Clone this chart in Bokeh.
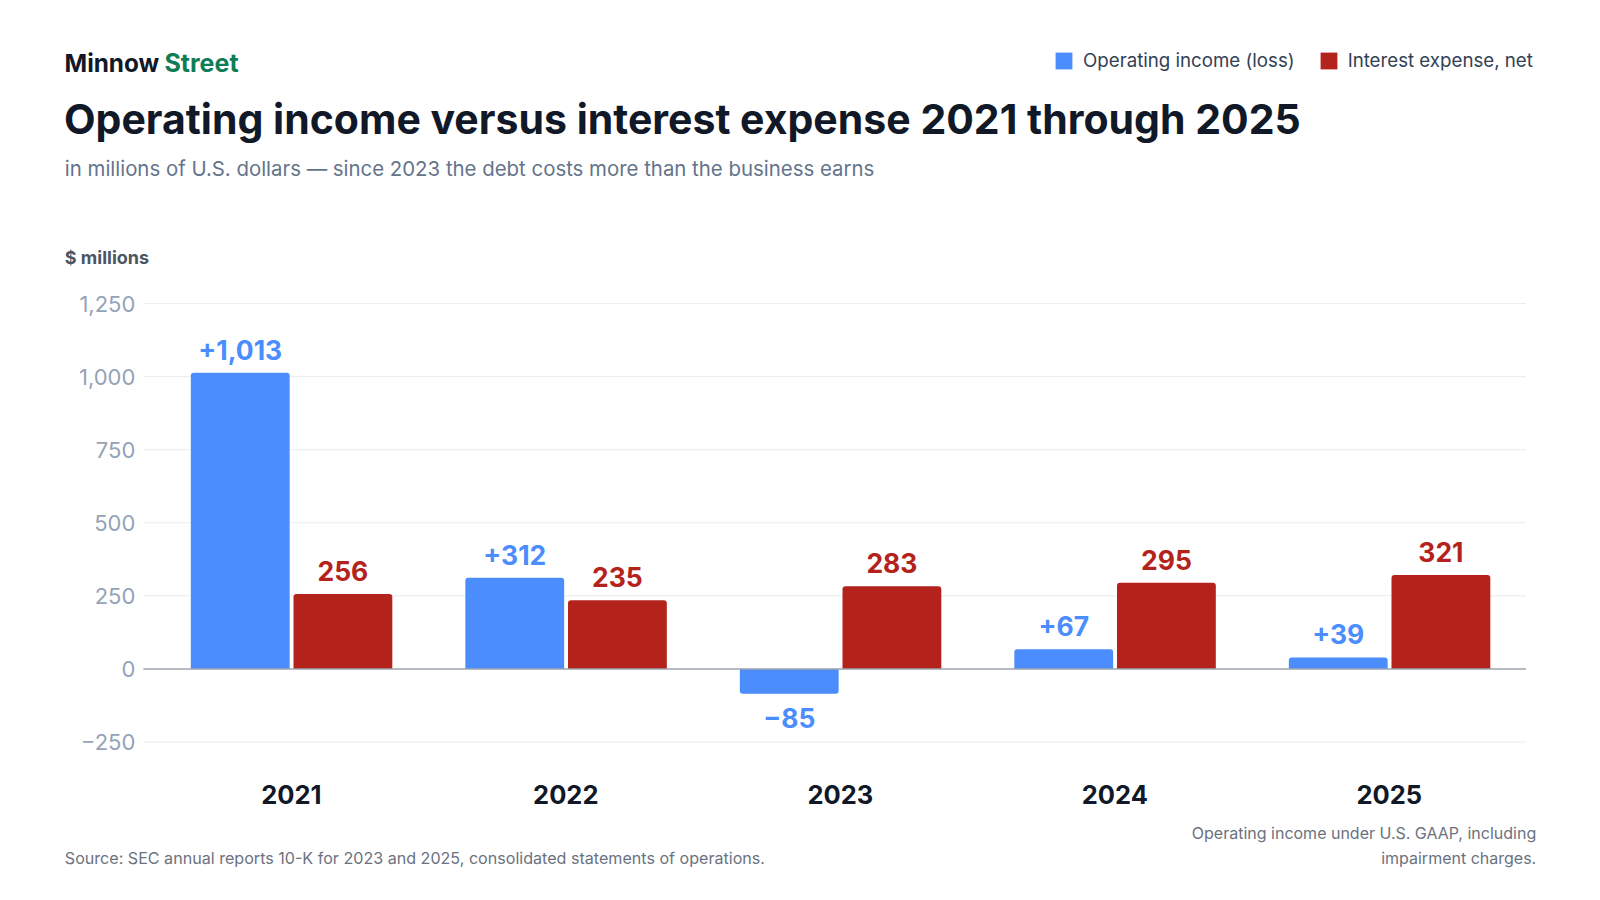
from bokeh.embed import file_html
from bokeh.resources import INLINE
from bokeh.plotting import figure
from bokeh.models import (ColumnDataSource, Range1d, Label, Legend, LegendItem,
                          CDSView, BooleanFilter)
from bokeh.core.properties import value

years = [2021, 2022, 2023, 2024, 2025]
operating_income = [1013, 312, -85, 67, 39]
interest_expense = [256, 235, 283, 295, 321]
y_ticks = [-250, 0, 250, 500, 750, 1000, 1250]
series_names = ["Operating income (loss)", "Interest expense, net"]

BLUE = "#4b8dfd"
RED = "#b3231b"
INK = "#111827"
FONT = "Inter"
W, H = 1584, 884

# the frame fills the whole canvas; the chart area inside it is bounded by these data values
PLOT_LEFT, PLOT_RIGHT, PLOT_BOTTOM = 2020.461, 2025.498, -366.6

p = figure(width=W, height=H, output_backend="svg", toolbar_location=None,
           x_axis_type=None, y_axis_type=None,
           x_range=Range1d(2019.9406, 2025.7111), y_range=Range1d(-737.8, 2287.2),
           min_border=0)
p.outline_line_color = None
p.xgrid.visible = False
p.ygrid.visible = False

# grid lines and zero line
grid = ColumnDataSource(dict(y=[t for t in y_ticks if t != 0]))
p.segment(x0=PLOT_LEFT, x1=PLOT_RIGHT, y0="y", y1="y", source=grid,
          line_color="#e8ebf0", line_width=1)

# bars
op_labels = [f"+{v:,}" if v >= 0 else f"\u2212{abs(v)}" for v in operating_income]
op_off = [-23 if v >= 0 else 24 for v in operating_income]
ie_labels = [f"{v:,}" for v in interest_expense]

src = ColumnDataSource(dict(
    x_op=[y - 0.186 for y in years],
    x_ie=[y + 0.188 for y in years],
    op=operating_income, ie=interest_expense,
    op_lab=op_labels, op_off=op_off, ie_lab=ie_labels,
))
pos = CDSView(filter=BooleanFilter([v >= 0 for v in operating_income]))
neg = CDSView(filter=BooleanFilter([v < 0 for v in operating_income]))
blue_r = p.vbar(x="x_op", top="op", bottom=0, width=0.36, source=src, view=pos,
                fill_color=BLUE, line_color=None, border_radius=(3, 3, 0, 0))
p.vbar(x="x_op", top="op", bottom=0, width=0.36, source=src, view=neg,
       fill_color=BLUE, line_color=None, border_radius=(0, 0, 3, 3))
red_r = p.vbar(x="x_ie", top="ie", bottom=0, width=0.36, source=src,
               fill_color=RED, line_color=None, border_radius=(3, 3, 0, 0))

p.segment(x0=PLOT_LEFT, x1=PLOT_RIGHT, y0=0, y1=0, line_color="#9ca3af", line_width=1.5)

# value labels
p.text(x="x_op", y="op", text="op_lab", source=src, y_offset="op_off",
       text_align="center", text_baseline="middle", text_color=BLUE,
       text_font=value(FONT), text_font_style="bold", text_font_size="26.5px")
p.text(x="x_ie", y="ie", text="ie_lab", source=src, y_offset=-23,
       text_align="center", text_baseline="middle", text_color=RED,
       text_font=value(FONT), text_font_style="bold", text_font_size="26.5px")

# y tick labels
ticks = ColumnDataSource(dict(
    x=[PLOT_LEFT] * len(y_ticks), y=y_ticks,
    t=[f"{v:,}".replace("-", "\u2212") for v in y_ticks],
))
p.text(x="x", y="y", text="t", source=ticks, x_offset=-8,
       text_align="right", text_baseline="middle", text_color="#94a3b8",
       text_font=value(FONT), text_font_size="22px")

# category labels
cats = ColumnDataSource(dict(x=years, y=[PLOT_BOTTOM] * len(years), t=[str(y) for y in years]))
p.text(x="x", y="y", text="t", source=cats, y_offset=18,
       text_align="center", text_baseline="middle", text_color=INK,
       text_font=value(FONT), text_font_style="bold", text_font_size="25.5px")


def lab(text, x, y, size, color, style="normal", align="left"):
    # x, y in canvas pixels from the top-left
    p.add_layout(Label(x=x, y=H - y, x_units="screen", y_units="screen", text=text,
                       text_font=FONT, text_font_size=size, text_color=color,
                       text_font_style=style, text_align=align, text_baseline="middle"))


lab("Minnow", 64, 62, "24.3px", INK, "bold")
lab("Street", 164, 62, "25px", "#0e7d57", "bold")
lab("Operating income versus interest expense 2021 through 2025", 63.5, 118.5, "41px", INK, "bold")
lab("in millions of U.S. dollars \u2014 since 2023 the debt costs more than the business earns",
    64.3, 168.4, "20.4px", "#64748b")
lab("$ millions", 64.3, 257, "18px", "#4b5563", "bold")
lab("Source: SEC annual reports 10-K for 2023 and 2025, consolidated statements of operations.",
    64.3, 857, "16.1px", "#6b7280")
lab("Operating income under U.S. GAAP, including", 1535.7, 832.7, "16px", "#6b7280", align="right")
lab("impairment charges.", 1535.7, 857, "16px", "#6b7280", align="right")

# legend icons are inset by 10% of the glyph box, hence the 21px box for a ~17px square
legend = Legend(items=[LegendItem(label=series_names[0], renderers=[blue_r]),
                       LegendItem(label=series_names[1], renderers=[red_r])],
                orientation="horizontal", location=(1053, H - 72.2),
                padding=0, margin=0, spacing=23, label_standoff=9,
                glyph_width=21, glyph_height=21, label_height=21,
                border_line_alpha=0, background_fill_alpha=0,
                label_text_font=FONT, label_text_font_size="18.7px", label_text_color="#334155")
p.add_layout(legend, "center")

open("out.html", "w").write(file_html(p, INLINE))
